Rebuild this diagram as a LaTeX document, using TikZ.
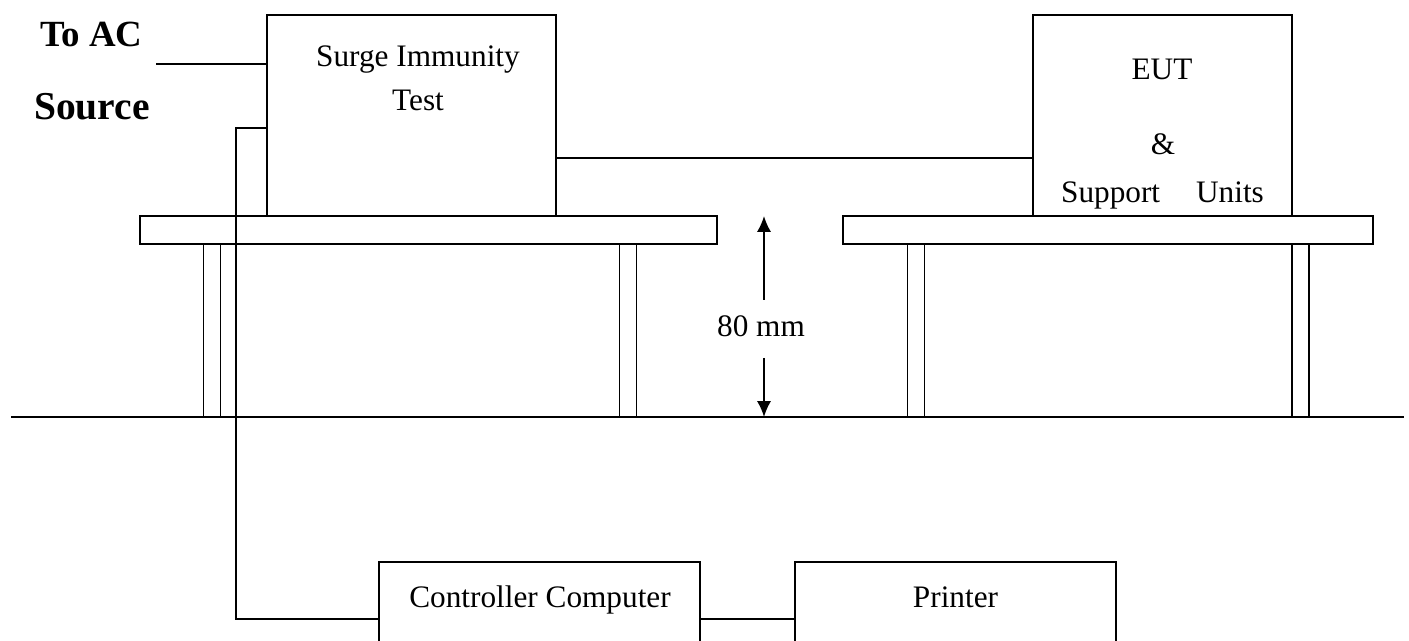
\documentclass[tikz,border=0pt]{standalone}
\usepackage{fontspec}
\setmainfont{Liberation Serif}
\usetikzlibrary{arrows.meta}
\usetikzlibrary{positioning}

\begin{document}
\begin{tikzpicture}
[x=0.02cm,y=-0.02cm,>={Latex[length=9pt,width=8pt]},%
  unit/.style={draw,line width=0.85pt,inner sep=0pt,outer sep=0pt},
  board/.style={unit,minimum height=0.56cm},
  leg/.style={unit,anchor=north,minimum width=0.34cm,minimum height=3.46cm},
  lbl/.style={anchor=base,inner sep=0pt,font=\fontsize{17.8pt}{20pt}\selectfont},
  wire/.style={line width=0.8pt},
  cable/.style={line width=1.4pt}]
\useasboundingbox (0,0) rectangle (1409,641);
\clip (0,0) rectangle (1409,641);
%% equipment
\node[unit,minimum width=5.78cm,minimum height=4.02cm] (surge) at (411.5,115.5) {};
\node[unit,minimum width=5.18cm,minimum height=4.02cm] (eut) at (1162.5,115.5) {};
\node[unit,minimum width=6.42cm,minimum height=2.16cm] (ctrl) at (539.5,616) {};
\node[unit,minimum width=6.42cm,minimum height=2.16cm] (printer) at (955.5,616) {};
%% tables
\node[board,minimum width=11.54cm] (lefttop) at (428.5,230) {};
\node[board,minimum width=10.6cm] (righttop) at (1108,230) {};
\node[leg] (leg1) at (212,244) {};
\node[leg] (leg2) at (628,244) {};
\node[leg] (leg3) at (916,244) {};
\node[leg] (leg4) at (1300.5,244) {};
%% labels
\node[lbl,font=\fontsize{21pt}{24pt}\selectfont\bfseries] (toac) at (91.5,47) {To AC};
\node[lbl,font=\fontsize{22.5pt}{26pt}\selectfont\bfseries] (source) at (92,120) {Source};
\node[lbl] (surgetxt) at (418,67) {Surge Immunity};
\node[lbl] (testtxt) at (418,111) {Test};
\node[lbl] (euttxt) at (1162,80) {EUT};
\node[lbl] (amp) at (1163,155) {\&};
\node[lbl] (supp) at (1162.5,203) {Support\hspace{1.15em}Units};
\node[lbl] (ctrltxt) at (540,607) {Controller Computer};
\node[lbl] (printtxt) at (955.5,607) {Printer};
\node[lbl] (hgt) at (761,337) {80 mm};
%% ground and helper points
\coordinate (g0) at (11,417);
\coordinate (g1) at (1404,417);
\coordinate (ac) at (156,64);
\coordinate (cabtop) at (236,128);
\coordinate (cabbot) at (236,619);
\coordinate (link) at (556,158);
\coordinate (up) at (764,300);
\coordinate (dn) at (764,358);
\draw[line width=1.2pt] (g0) -- (g1);
%% wires and cables
\draw[wire] (ac) -- (ac -| surge.west);
\draw[wire] (surge.east |- link) -- (eut.west |- link);
\draw[cable] (surge.west |- cabtop) -- (cabtop) -- (cabbot) -- (cabbot -| ctrl.west);
\draw[cable] (ctrl.east |- cabbot) -- (printer.west |- cabbot);
%% height
\draw[->,line width=1pt] (up) -- (up |- lefttop.north);
\draw[->,line width=1pt] (dn) -- (dn |- g0);
\end{tikzpicture}
\end{document}
